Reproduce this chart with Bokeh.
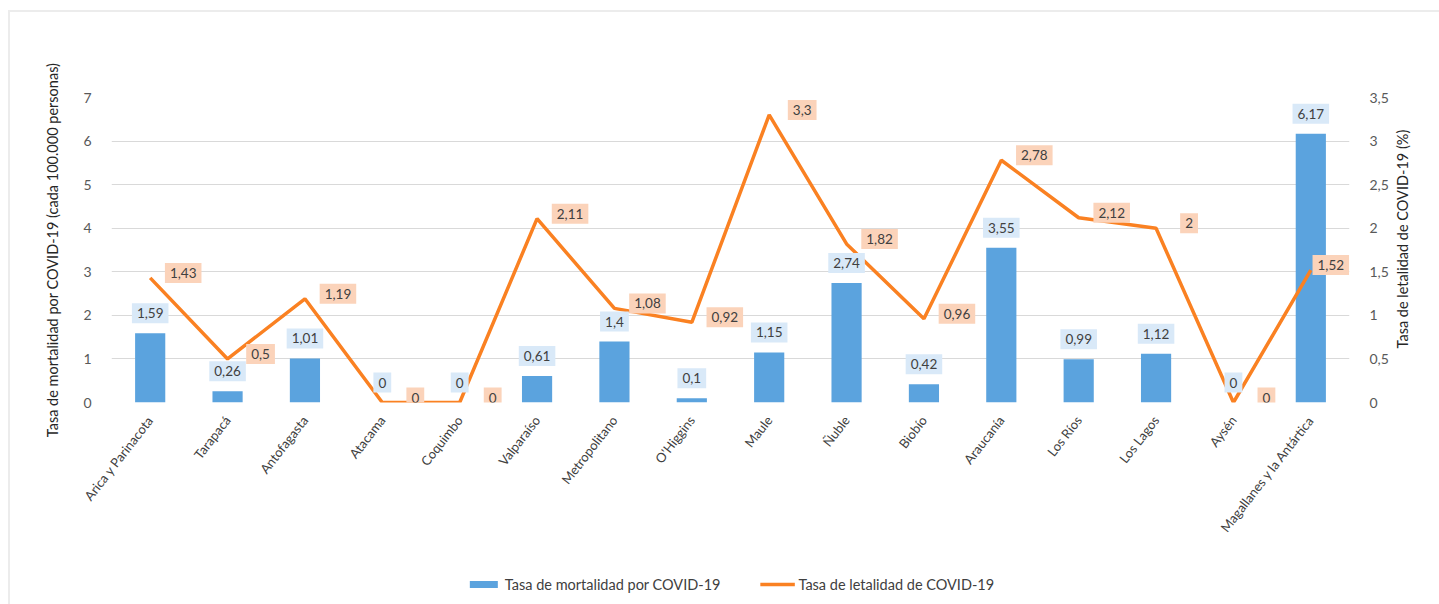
import math
from bokeh.plotting import figure
from bokeh.layouts import column
from bokeh.models import (Range1d, LinearAxis, FixedTicker, ColumnDataSource,
                          Legend, LegendItem, FactorRange)
from bokeh.core.properties import value
from bokeh.embed import file_html
from bokeh.resources import INLINE

regions = ["Arica y Parinacota", "Tarapacá", "Antofagasta", "Atacama", "Coquimbo",
           "Valparaíso", "Metropolitano", "O'Higgins", "Maule", "Ñuble", "Biobío",
           "Araucanía", "Los Ríos", "Los Lagos", "Aysén", "Magallanes y la Antártica"]
mortalidad = [1.59, 0.26, 1.01, 0, 0, 0.61, 1.4, 0.1, 1.15, 2.74, 0.42, 3.55, 0.99, 1.12, 0, 6.17]
letalidad = [1.43, 0.5, 1.19, 0, 0, 2.11, 1.08, 0.92, 3.3, 1.82, 0.96, 2.78, 2.12, 2, 0, 1.52]
left_ticks = [0, 1, 2, 3, 4, 5, 6, 7]
right_ticks = [0, 0.5, 1, 1.5, 2, 2.5, 3, 3.5]
serie_names = ["Tasa de mortalidad por COVID-19", "Tasa de letalidad de COVID-19"]
left_title = "Tasa de mortalidad por COVID-19 (cada 100.000 personas)"
right_title = "Tasa de letalidad de COVID-19 (%)"

def fmt(v):
    return f"{v:g}".replace(".", ",")

FONT = "Lato"
BAR = "#5BA3DE"
LINE = "#FA8122"
BLUE_BG = "#D9E9F8"
ORANGE_BG = "#FBD3BA"

# label placement (pixels): right of each line point, kept inside the plot area at the end
let_dx = [33] * (len(letalidad) - 1) + [20]

src = ColumnDataSource(dict(
    cat=regions, mort=mortalidad, let=letalidad, let_dx=let_dx,
    mort_lbl=[fmt(v) for v in mortalidad], let_lbl=[fmt(v) for v in letalidad]))

p = figure(x_range=FactorRange(factors=regions, range_padding=0), y_range=Range1d(0, 7),
           width=1429, height=552, output_backend="svg", toolbar_location=None,
           min_border_left=101, min_border_right=90, min_border_top=85, min_border_bottom=162)
p.outline_line_color = None
p.background_fill_color = "white"
p.border_fill_color = "white"

p.extra_y_ranges = {"right": Range1d(0, 3.5)}

bars = p.vbar(x="cat", top="mort", width=0.39, source=src, fill_color=BAR, line_color=None)
line = p.line(x="cat", y="let", source=src, y_range_name="right", line_color=LINE, line_width=3.5)

# grid / axes
p.xgrid.grid_line_color = None
p.ygrid.grid_line_color = "#d9d9d9"
p.ygrid.grid_line_width = 1.2
p.yaxis.ticker = FixedTicker(ticks=left_ticks)
ax = p.yaxis[0]
ax.axis_line_color = None
ax.major_tick_line_color = None
ax.minor_tick_line_color = None
ax.major_label_text_font = FONT
ax.major_label_text_font_size = "14px"
ax.major_label_text_color = "#595959"
ax.major_label_standoff = 14
ax.axis_label = left_title
ax.axis_label_text_font = FONT
ax.axis_label_text_font_size = "14.5px"
ax.axis_label_text_font_style = "normal"
ax.axis_label_text_color = "#262626"
ax.axis_label_standoff = 19

rax = LinearAxis(y_range_name="right", ticker=FixedTicker(ticks=right_ticks),
                 major_label_overrides={t: fmt(t) for t in right_ticks})
rax.axis_line_color = None
rax.major_tick_line_color = None
rax.minor_tick_line_color = None
rax.major_label_text_font = FONT
rax.major_label_text_font_size = "14px"
rax.major_label_text_color = "#595959"
rax.major_label_standoff = 14
p.add_layout(rax, "right")

# title of the right axis, reading bottom to top (a single rotated label starting low on the axis)
title_start = 0.62
tax = LinearAxis(y_range_name="right", ticker=FixedTicker(ticks=[title_start]),
                 major_label_overrides={title_start: right_title})
tax.axis_line_color = None
tax.major_tick_line_color = None
tax.minor_tick_line_color = None
tax.major_tick_out = 0
tax.major_label_orientation = math.pi / 2
tax.major_label_text_font = FONT
tax.major_label_text_font_size = "14.5px"
tax.major_label_text_color = "#262626"
tax.major_label_standoff = 11
p.add_layout(tax, "right")

xa = p.xaxis[0]
xa.axis_line_color = None
xa.major_tick_line_color = None
xa.minor_tick_line_color = None
xa.major_label_orientation = 0.91
xa.major_label_text_font = FONT
xa.major_label_text_font_size = "13px"
xa.major_label_text_color = "#404040"
xa.major_label_standoff = 9

# data labels
p.text(x="cat", y="mort", text="mort_lbl", source=src, text_align="center",
       text_baseline="middle", y_offset=-20, text_font=value(FONT), text_font_size="13.5px",
       text_color="#404040", background_fill_color=BLUE_BG, padding=5)
p.text(x="cat", y="let", text="let_lbl", source=src, y_range_name="right",
       text_align="center", text_baseline="middle", x_offset="let_dx", y_offset=-5,
       text_font=value(FONT), text_font_size="13.5px", text_color="#404040",
       background_fill_color=ORANGE_BG, padding=5)

# legend strip under the chart (its own swatch renderers sit outside its visible range)
lf = figure(width=1429, height=40, output_backend="svg", toolbar_location=None,
            x_range=Range1d(0, 1), y_range=Range1d(0, 1),
            x_axis_location=None, y_axis_location=None, min_border=0)
lf.outline_line_color = None
lf.grid.visible = False
lf.border_fill_color = "white"
lb = lf.vbar(x=[-5], top=[-5], width=0.5, fill_color=BAR, line_color=None)
ll = lf.line(x=[-5, -4], y=[-5, -4], line_color=LINE, line_width=3.5)
legend = Legend(items=[LegendItem(label=serie_names[0], renderers=[lb]),
                       LegendItem(label=serie_names[1], renderers=[ll])],
                orientation="horizontal", location="center", background_fill_alpha=0,
                border_line_color=None, label_text_font=FONT, label_text_font_size="14.5px",
                label_text_color="#404040", glyph_width=35, glyph_height=9, spacing=39,
                label_standoff=4, padding=4, margin=0)
lf.add_layout(legend, "center")

layout = column(p, lf, spacing=0)
layout.styles = {"margin-left": "8px", "margin-top": "10px",
                 "border-left": "2px solid #ececec", "border-top": "2px solid #ececec"}

open("out.html", "w").write(file_html(layout, INLINE))
